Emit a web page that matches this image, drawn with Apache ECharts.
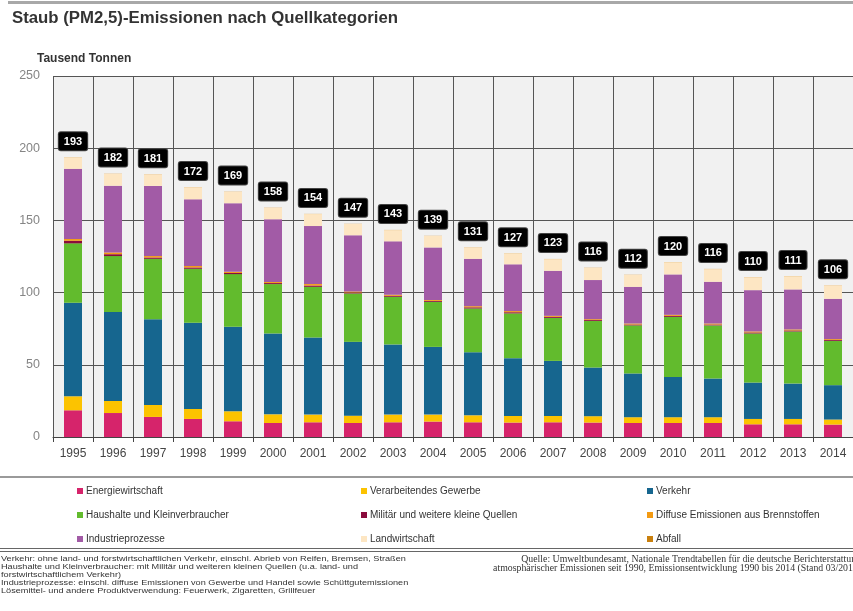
<!DOCTYPE html>
<html>
<head>
<meta charset="utf-8">
<script src="https://cdn.jsdelivr.net/npm/echarts@6/dist/echarts.min.js"></script>
<style>
  html, body { margin: 0; padding: 0; background: #fff; }
  #chart { width: 853px; height: 611px; }
</style>
</head>
<body>
<div id="chart"></div>
<script>
const years = ['1995','1996','1997','1998','1999','2000','2001','2002','2003','2004',
               '2005','2006','2007','2008','2009','2010','2011','2012','2013','2014'];

// Tausend Tonnen
const energie    = [18.5,16.6,13.9,12.5,10.9,9.7,10.2,9.7,10.2,10.7,10.2,10.0,10.2,10.0,9.7,9.7,9.7,8.8,8.8,8.6];
const verarb     = [9.7,8.4,8.3,6.9,6.9,6.0,5.3,5.1,5.3,4.8,4.8,4.6,4.4,4.4,4.0,4.0,4.0,3.7,3.7,3.5];
const verkehr    = [64.7,61.5,59.4,59.7,58.5,56.0,53.4,51.1,48.6,46.9,43.7,40.0,38.1,33.7,30.3,27.9,26.8,25.2,24.5,23.8];
const haushalte  = [41.2,38.8,41.8,37.4,36.5,34.2,35.1,33.5,33.0,31.2,30.3,31.0,29.8,32.3,33.3,41.6,36.8,34.0,36.1,30.7];
const militaer   = [1.8,1.3,0.9,0.9,0.8,0.7,0.9,0.7,0.7,0.6,0.8,0.8,0.7,0.6,0.6,0.7,0.6,0.7,0.7,0.6];
const diffuse    = [1.2,1.2,1.0,1.0,0.8,0.7,1.0,0.7,0.7,0.6,0.8,0.8,0.7,0.6,0.7,0.7,0.7,0.7,0.7,0.6];
const industrie  = [48.6,46.2,48.6,46.2,47.5,43.5,40.2,38.9,37.0,36.5,32.8,32.4,31.2,27.1,25.4,28.0,28.9,28.6,27.7,27.9];
const landwirt   = [8.0,8.3,8.0,8.4,8.0,8.0,8.3,7.8,7.8,7.9,7.9,7.6,8.1,8.5,8.3,8.5,8.8,9.0,9.2,9.3];
const abfall     = [0.1,0.1,0.1,0.1,0.1,0.1,0.1,0.1,0.1,0.1,0.1,0.1,0.1,0.1,0.1,0.1,0.1,0.1,0.1,0.1];
const totals     = [193,182,181,172,169,158,154,147,143,139,131,127,123,116,112,120,116,110,111,106];

const yTicks = { min: 0, max: 250, interval: 50 };

const cats = [
  { name: 'Energiewirtschaft', data: energie, color: '#d6246b' },
  { name: 'Verarbeitendes Gewerbe', data: verarb, color: '#fcc300' },
  { name: 'Verkehr', data: verkehr, color: '#16668f' },
  { name: 'Haushalte und Kleinverbraucher', data: haushalte, color: '#62bb2d' },
  { name: 'Militär und weitere kleine Quellen', data: militaer, color: '#8a0b3c' },
  { name: 'Diffuse Emissionen aus Brennstoffen', data: diffuse, color: '#f39a12' },
  { name: 'Industrieprozesse', data: industrie, color: '#a25ba6' },
  { name: 'Landwirtschaft', data: landwirt, color: '#fde6c3' },
  { name: 'Abfall', data: abfall, color: '#c9800e' }
];

const font = 'Liberation Sans, Arial, sans-serif';

const series = cats.map(c => ({
  name: c.name,
  type: 'bar',
  stack: 'staub',
  barWidth: 18,
  data: c.data,
  itemStyle: { color: c.color },
  emphasis: { disabled: true }
}));

// black total boxes sit on the top segment of each stack
series[series.length - 1].label = {
  show: true,
  position: 'top',
  distance: 7,
  formatter: p => String(totals[p.dataIndex]),
  color: '#fff',
  fontWeight: 'bold',
  fontSize: 11,
  fontFamily: font,
  backgroundColor: '#000',
  borderColor: '#444',
  borderWidth: 1,
  borderRadius: 2,
  padding: [4, 5, 3, 5]
};

function legendCol(left, names) {
  return {
    orient: 'vertical',
    left: left,
    top: 480,
    itemWidth: 6,
    itemHeight: 6,
    itemGap: 12,
    icon: 'rect',
    selectedMode: false,
    data: names,
    textStyle: { fontSize: 10, color: '#333', fontFamily: font, lineHeight: 12, padding: [0, 0, 0, -2] }
  };
}

const chart = echarts.init(document.getElementById('chart'), null, { renderer: 'canvas' });

chart.setOption({
  animation: false,
  backgroundColor: '#fff',
  grid: {
    left: 53, top: 76, right: -2, height: 361,
    show: true, backgroundColor: '#f1f1f1', borderWidth: 0
  },
  legend: [
    legendCol(72, ['Energiewirtschaft', 'Haushalte und Kleinverbraucher', 'Industrieprozesse']),
    legendCol(356, ['Verarbeitendes Gewerbe', 'Militär und weitere kleine Quellen', 'Landwirtschaft']),
    legendCol(642, ['Verkehr', 'Diffuse Emissionen aus Brennstoffen', 'Abfall'])
  ],
  xAxis: {
    type: 'category',
    data: years,
    axisLine: { lineStyle: { color: '#444', width: 1 } },
    axisTick: { show: true, length: 5, lineStyle: { color: '#444' } },
    splitLine: { show: true, lineStyle: { color: '#555', width: 1 } },
    axisLabel: { color: '#444', fontSize: 12, fontFamily: font, margin: 11 }
  },
  yAxis: {
    type: 'value',
    min: yTicks.min, max: yTicks.max, interval: yTicks.interval,
    axisLine: { show: false },
    axisTick: { show: false },
    splitLine: { lineStyle: { color: '#555', width: 1 } },
    axisLabel: { color: '#858585', fontSize: 12.5, fontFamily: font, margin: 13 }
  },
  series: series,
  graphic: [
    { type: 'rect', shape: { x: 8, y: 1, width: 845, height: 3 }, style: { fill: '#a8a8a8' } },
    { type: 'text', left: 12, top: 10,
      style: { text: 'Staub (PM2,5)-Emissionen nach Quellkategorien', font: 'bold 16.8px ' + font, fill: '#333' } },
    { type: 'text', left: 37, top: 53,
      style: { text: 'Tausend Tonnen', font: 'bold 12px ' + font, fill: '#333' } },
    { type: 'rect', shape: { x: 0, y: 476, width: 853, height: 2 }, style: { fill: '#9a9a9a' } },
    { type: 'rect', shape: { x: 0, y: 548, width: 853, height: 1 }, style: { fill: '#666' } },
    { type: 'rect', shape: { x: 0, y: 551, width: 853, height: 1 }, style: { fill: '#666' } },
    { type: 'text', x: 1, y: 555, scaleX: 1.22,
      style: {
        text: 'Verkehr: ohne land- und forstwirtschaftlichen Verkehr, einschl. Abrieb von Reifen, Bremsen, Straßen\n' +
              'Haushalte und Kleinverbraucher: mit Militär und weiteren kleinen Quellen (u.a. land- und\n' +
              'forstwirtschaftlichem Verkehr)\n' +
              'Industrieprozesse: einschl. diffuse Emissionen von Gewerbe und Handel sowie Schüttgutemissionen\n' +
              'Lösemittel- und andere Produktverwendung: Feuerwerk, Zigaretten, Grillfeuer',
        font: '7.5px ' + font, lineHeight: 8, fill: '#333'
      } },
    { type: 'text', x: 861, y: 555,
      style: {
        text: 'Quelle: Umweltbundesamt, Nationale Trendtabellen für die deutsche Berichterstattung\n' +
              'atmosphärischer Emissionen seit 1990, Emissionsentwicklung 1990 bis 2014 (Stand 03/2016)',
        font: '9.8px Liberation Serif, Times New Roman, serif', lineHeight: 9, fill: '#333', align: 'right'
      } }
  ]
});
</script>
</body>
</html>
